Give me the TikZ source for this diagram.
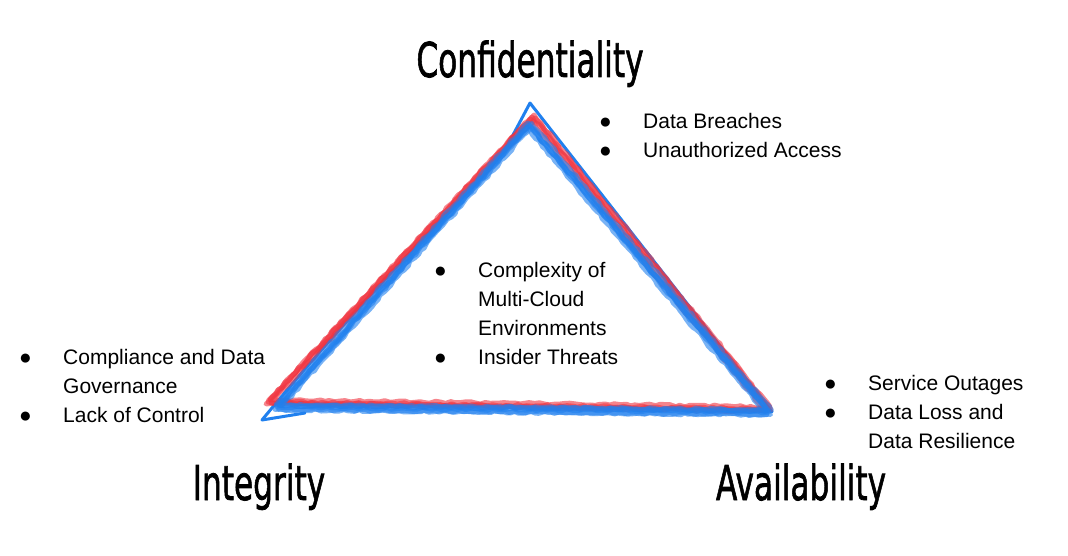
\documentclass[tikz,border=0pt]{standalone}
\usepackage{fontspec}
\setmainfont{Liberation Sans}
\newfontfamily\handfont[FakeBold=1.6]{DejaVu Sans}
\usepackage{array}
\usetikzlibrary{decorations.pathmorphing}
\definecolor{crayonred}{RGB}{240,52,64}
\definecolor{crayonblue}{RGB}{32,128,238}
\tikzset{
  pillar/.style={font=\handfont\fontsize{48}{48}\selectfont, inner sep=0, anchor=base},
  bulletlist/.style={font=\fontsize{21}{29}\selectfont, inner sep=0, anchor=north west},
  crayon/.style={line width=5pt, line join=round, line cap=round, opacity=0.6,
    decorate, decoration={random steps, segment length=5pt, amplitude=1.2pt}},
  sketch/.style={crayonblue, line width=3pt, line join=round, line cap=round},
}
\newcommand{\pillartext}[1]{\scalebox{0.65}[1]{#1}}
\newcommand{\bulletmark}{●}
\begin{document}
\begin{tikzpicture}[x=1pt, y=-1pt]
  \useasboundingbox (0,0) rectangle (1068,556);

  % thin outline
  \draw[sketch] (262,420) -- (305,413);
  \draw[sketch] (262,420) .. controls (390,265) and (470,195) .. (505,150) -- (530,103) -- (772,412);

  % red crayon pass
  \foreach \dx/\dy in {0/0, 2/-2, -2/2, 3/1}
    \draw[crayon, crayonred] (532+\dx,117+\dy) -- (268+\dx,402+\dy) -- (768+\dx,409+\dy) -- cycle;
  % blue crayon pass
  \foreach \dx/\dy in {0/0, 2.5/-1.5, -2/2.5, 1.5/2.5, -1/-2}
    \draw[crayon, crayonblue] (529+\dx,125+\dy) -- (277+\dx,407+\dy) -- (769+\dx,412+\dy) -- cycle;

  % pillars
  \node[pillar] (conf) at (530,77) {\pillartext{Confidentiality}};
  \node[pillar] (integ) at (259,500) {\pillartext{Integrity}};
  \node[pillar] (avail) at (801,500) {\pillartext{Availability}};

  % threats
  \node[bulletlist] (confThreats) at (599,108) {%
    \begin{tabular}{@{}p{44pt}@{}l@{}}
      \bulletmark & Data Breaches\\
      \bulletmark & Unauthorized Access
    \end{tabular}};
  \node[bulletlist] (sharedThreats) at (434,257) {%
    \begin{tabular}{@{}p{44pt}@{}l@{}}
      \bulletmark & Complexity of\\
           & Multi-Cloud\\
           & Environments\\
      \bulletmark & Insider Threats
    \end{tabular}};
  \node[bulletlist] (integThreats) at (19,344) {%
    \begin{tabular}{@{}p{44pt}@{}l@{}}
      \bulletmark & Compliance and Data\\
           & Governance\\
      \bulletmark & Lack of Control
    \end{tabular}};
  \node[bulletlist] (availThreats) at (824,370) {%
    \begin{tabular}{@{}p{44pt}@{}l@{}}
      \bulletmark & Service Outages\\
      \bulletmark & Data Loss and\\
           & Data Resilience
    \end{tabular}};
\end{tikzpicture}
\end{document}
